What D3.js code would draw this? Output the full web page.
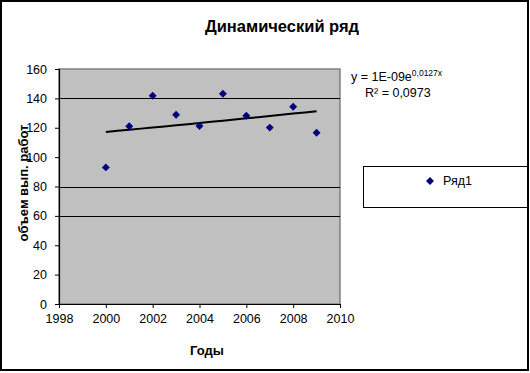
<!DOCTYPE html>
<html>
<head>
<meta charset="utf-8">
<script src="https://cdn.jsdelivr.net/npm/d3@7"></script>
<style>
  html, body { margin: 0; padding: 0; background: #fff; }
  svg { display: block; font-family: "Liberation Sans", Arial, sans-serif; }
</style>
</head>
<body>
<svg id="chart" width="530" height="373"></svg>
<script>
const years = [2000, 2001, 2002, 2003, 2004, 2005, 2006, 2007, 2008, 2009];
const values = [93, 121, 141.8, 128.9, 121.2, 143.2, 128.2, 120.1, 134.3, 116.6];
const xTicks = [1998, 2000, 2002, 2004, 2006, 2008, 2010];
const yTicks = [0, 20, 40, 60, 80, 100, 120, 140, 160];
const gridValues = [60, 80, 140];
const seriesName = "Ряд1";
const title = "Динамический ряд";
const xTitle = "Годы";
const yTitle = "объем вып. работ";
const eqMain = "y = 1E-09e";
const eqSup = "0,0127x";
const r2Text = "R² = 0,0973";

const svg = d3.select("#chart");
const plot = { left: 59, right: 340, top: 69, bottom: 304 };

const x = d3.scaleLinear().domain([1998, 2010]).range([plot.left, plot.right]);
const y = d3.scaleLinear().domain([0, 160]).range([plot.bottom, plot.top]);

// outer border
svg.append("rect").attr("x", 1).attr("y", 1).attr("width", 527).attr("height", 369)
  .attr("fill", "#fff").attr("stroke", "#000").attr("stroke-width", 2);

// title
svg.append("text").attr("x", 282).attr("y", 32).attr("text-anchor", "middle")
  .attr("font-size", 16.5).attr("font-weight", "bold").text(title);

// plot area
svg.append("rect").attr("x", plot.left).attr("y", plot.top)
  .attr("width", plot.right - plot.left).attr("height", plot.bottom - plot.top)
  .attr("fill", "#c0c0c0").attr("stroke", "#808080").attr("stroke-width", 1.5);

// gridlines
svg.append("g").selectAll("line").data(gridValues).join("line")
  .attr("x1", plot.left).attr("x2", plot.right)
  .attr("y1", d => Math.round(y(d)) + 0.5).attr("y2", d => Math.round(y(d)) + 0.5)
  .attr("stroke", "#000").attr("stroke-width", 1);

// axes
const yAxis = d3.axisLeft(y).tickValues(yTicks).tickSize(4).tickPadding(8);
const gy = svg.append("g").attr("transform", `translate(${plot.left},0)`).call(yAxis);
const xAxis = d3.axisBottom(x).tickValues(xTicks).tickSize(4).tickPadding(6).tickFormat(d3.format("d"));
const gx = svg.append("g").attr("transform", `translate(0,${plot.bottom})`).call(xAxis);
[gx, gy].forEach(g => {
  g.select(".domain").attr("stroke", "#000").attr("stroke-width", 1.2);
  g.selectAll(".tick line").attr("stroke", "#000");
  g.selectAll(".tick text").attr("font-size", 12.5).attr("fill", "#000")
    .attr("font-family", "'Liberation Sans', Arial, sans-serif");
});
gx.select(".domain").attr("d", `M${plot.left},0.5H${plot.right}`);
gy.select(".domain").attr("d", `M0.5,${plot.top}V${plot.bottom}`);

// exponential trend fit (least squares on ln y)
const lx = years.map(v => v - 2000);
const ly = values.map(v => Math.log(v));
const mx = d3.mean(lx), my = d3.mean(ly);
const b = d3.sum(lx.map((v, i) => (v - mx) * (ly[i] - my))) / d3.sum(lx.map(v => (v - mx) ** 2));
const a = my - b * mx;
const trendPts = d3.range(0, 9.01, 0.5).map(t => [2000 + t, Math.exp(a + b * t)]);
svg.append("path").datum(trendPts)
  .attr("d", d3.line().x(d => x(d[0])).y(d => y(d[1])))
  .attr("fill", "none").attr("stroke", "#000").attr("stroke-width", 2);

// markers
const diamond = d3.symbol().type(d3.symbolDiamond2).size(40);
svg.append("g").selectAll("path").data(years).join("path")
  .attr("transform", (d, i) => `translate(${x(d)},${y(values[i])})`)
  .attr("d", diamond).attr("fill", "#000080");

// axis titles
svg.append("text").attr("x", 207).attr("y", 355).attr("text-anchor", "middle")
  .attr("font-size", 13).attr("font-weight", "bold").text(xTitle);
svg.append("text").attr("transform", "translate(28,183) rotate(-90)").attr("text-anchor", "middle")
  .attr("font-size", 13).attr("font-weight", "bold").text(yTitle);

// equation
const eq = svg.append("text").attr("x", 351).attr("y", 81).attr("font-size", 12.5);
eq.append("tspan").text(eqMain);
eq.append("tspan").attr("dy", -5).attr("font-size", 8.5).text(eqSup);
svg.append("text").attr("x", 365).attr("y", 97).attr("font-size", 12.5).text(r2Text);

// legend
svg.append("rect").attr("x", 363.5).attr("y", 166.5).attr("width", 164).attr("height", 41)
  .attr("fill", "#fff").attr("stroke", "#000").attr("stroke-width", 1);
svg.append("path").attr("transform", "translate(430,181)").attr("d", diamond).attr("fill", "#000080");
svg.append("text").attr("x", 443).attr("y", 185).attr("font-size", 12.5).text(seriesName);
</script>
</body>
</html>
